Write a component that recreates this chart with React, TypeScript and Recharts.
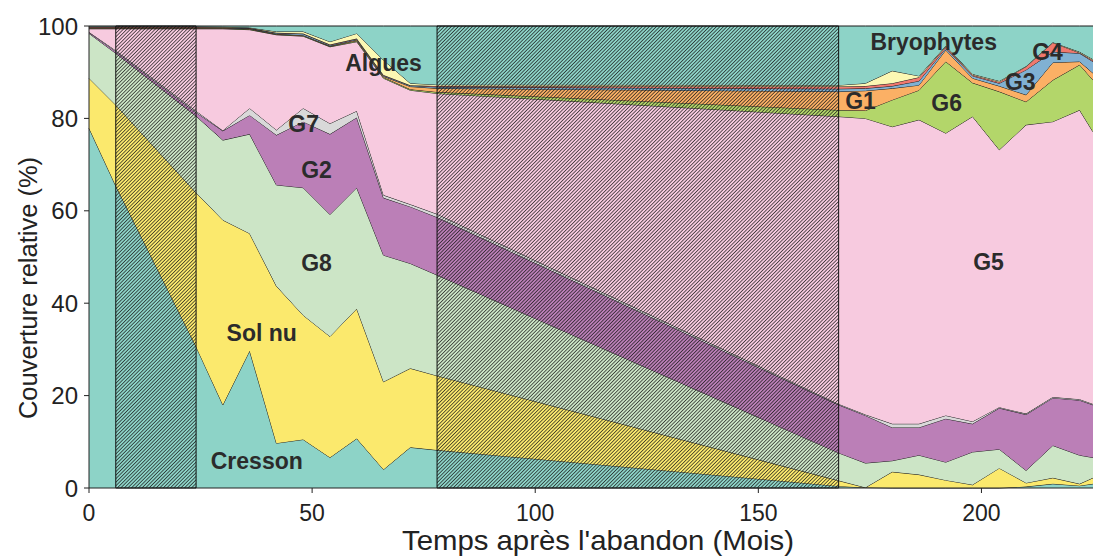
import { AreaChart, Area, XAxis, YAxis, ReferenceArea, ReferenceDot, Label } from 'recharts';

// months after abandonment (hatched spans = interpolated periods)
const months = [0, 6, 24, 30, 36, 42, 48, 54, 60, 66, 72, 78, 168, 174, 180, 186, 192, 198, 204, 210, 216, 222, 225];

const cresson = [77.9, 65.4, 30.6, 18.0, 29.7, 9.7, 10.5, 6.6, 10.7, 4.0, 8.8, 8.2, 0.4, 0.1, 0, 0, 0, 0, 0, 0.3, 0.9, 0.5, 0.9];
const solNu = [10.8, 17.5, 33.3, 40.0, 25.4, 34.0, 26.9, 26.2, 28.1, 19.0, 17.1, 16.1, 1.2, 0, 3.5, 2.9, 1.7, 0.7, 4.3, 0.8, 1.3, 0.4, 1.3];
const g8 = [9.7, 11.2, 16.6, 17.3, 21.5, 21.9, 27.6, 26.4, 26.2, 27.4, 22.7, 21.8, 6.0, 5.3, 2.4, 4.2, 3.9, 7.1, 4.1, 2.7, 7.0, 6.2, 4.4];
const g2 = [0.2, 0.4, 0.8, 2.0, 4.1, 10.8, 14.3, 17.4, 15.2, 12.4, 12.3, 12.5, 10.4, 10.3, 7.2, 6.0, 9.4, 6.1, 8.9, 12.1, 10.3, 11.9, 11.4];
const g7 = [0.1, 0.2, 0.3, 0.1, 1.5, 1.1, 2.9, 2.3, 1.4, 0.6, 0.5, 0.7, 0.2, 0.2, 0.8, 0.8, 0.7, 0.5, 0.2, 0.2, 0.2, 0.2, 0.2];
const g5 = [0.7, 4.7, 17.8, 22.0, 17.0, 20.6, 15.6, 16.6, 15.0, 25.3, 24.7, 26.1, 62.2, 64.1, 64.3, 65.8, 61.1, 66.0, 55.7, 62.5, 59.6, 62.6, 58.9];
const g6 = [0.1, 0.1, 0.1, 0.1, 0.1, 0.1, 0.1, 0.1, 0.2, 0.2, 0.2, 0.3, 1.4, 1.7, 5.8, 6.4, 15.5, 7.3, 12.6, 5.0, 9.0, 9.8, 11.2];
const g1 = [0.1, 0.1, 0.1, 0.1, 0.1, 0.1, 0.1, 0.1, 0.2, 0.2, 0.6, 0.8, 4.0, 4.3, 2.5, 1.1, 2.5, 1.0, 1.2, 1.5, 3.8, 0.7, 1.5];
const g3 = [0.1, 0.1, 0.1, 0.1, 0.1, 0.2, 0.3, 0.2, 0.2, 0.2, 0.2, 0.3, 0.6, 0.5, 0.5, 0.9, 0.4, 0.5, 0.6, 5.4, 2.3, 1.8, 2.5];
const g4 = [0.1, 0.1, 0.1, 0.05, 0.05, 0.05, 0.1, 0.1, 0.1, 0.1, 0.1, 0.2, 0.5, 0.5, 0.6, 0.8, 0.3, 0.2, 0.3, 0.7, 2.0, 0.1, 0.3];
const algues = [0.1, 0.1, 0.1, 0.1, 0.1, 0.25, 0.4, 0.6, 1.1, 3.2, 0.4, 0.3, 0.3, 0.6, 2.7, 0.3, 0.2, 0.2, 0.2, 0.1, 0.1, 0.2, 0.2];
const bryophytes = [0.1, 0.1, 0.1, 0.15, 0.35, 1.2, 1.2, 3.4, 1.6, 7.4, 12.4, 12.7, 12.8, 12.4, 9.7, 10.8, 4.3, 10.4, 11.9, 8.7, 3.5, 5.6, 7.2];

const hatchedSpans = [[6, 24], [78, 168]];

const series = [
  { key: 'cresson', color: '#8dd3c7', values: cresson },
  { key: 'solNu', color: '#fbe96d', values: solNu },
  { key: 'g8', color: '#cce5c6', values: g8 },
  { key: 'g2', color: '#bb7fb7', values: g2 },
  { key: 'g7', color: '#d9d9d9', values: g7 },
  { key: 'g5', color: '#f7cadf', values: g5 },
  { key: 'g6', color: '#b3d66a', values: g6 },
  { key: 'g1', color: '#fbb065', values: g1 },
  { key: 'g3', color: '#80b1d3', values: g3 },
  { key: 'g4', color: '#f0786e', values: g4 },
  { key: 'algues', color: '#fcf8b3', values: algues },
  { key: 'bryophytes', color: '#8dd3c7', values: bryophytes },
];

// in-chart labels, in data units (month, %)
const labels = [
  { text: 'Cresson', x: 37.6, y: 5.8 },
  { text: 'Sol nu', x: 38.7, y: 33.5 },
  { text: 'G8', x: 51, y: 48.7 },
  { text: 'G2', x: 51, y: 68.8 },
  { text: 'G7', x: 48.1, y: 78.8 },
  { text: 'Algues', x: 66, y: 92 },
  { text: 'G5', x: 201.6, y: 48.9 },
  { text: 'G1', x: 172.9, y: 83.8 },
  { text: 'G6', x: 192.2, y: 83.3 },
  { text: 'G3', x: 208.7, y: 87.9 },
  { text: 'G4', x: 214.8, y: 94.4 },
  { text: 'Bryophytes', x: 189.3, y: 96.5 },
];

const data = months.map((m, i) => {
  const row: any = { month: m };
  series.forEach((s) => { row[s.key] = s.values[i]; });
  return row;
});

const font = '"Liberation Sans", Arial, sans-serif';
const narrow = '"Liberation Sans Narrow", ' + font;

export default function App() {
  return (
    <div style={{ width: 1093, height: 558 }}>
      <style>{'body{margin:0}'}</style>
      <AreaChart width={1093} height={558} data={data} margin={{ top: 26, right: 0, bottom: 0, left: 0 }}>
        <defs>
          <pattern id="hatch" patternUnits="userSpaceOnUse" width="2.5" height="2.5" patternTransform="rotate(45)">
            <line x1="0" y1="0" x2="0" y2="2.5" stroke="#111" strokeWidth="1.3" />
          </pattern>
        </defs>
        <XAxis
          dataKey="month"
          type="number"
          domain={[0, 225]}
          ticks={[0, 50, 100, 150, 200]}
          height={70}
          tickSize={5}
          tickMargin={12}
          stroke="#222"
          tick={{ fill: '#222', fontSize: 23, fontFamily: narrow }}
        >
          <Label
            content={() => (
              <text x={598} y={550} textAnchor="middle" fontSize={28} fill="#222" textLength={392} lengthAdjust="spacingAndGlyphs" fontFamily={narrow}>
                Temps après l'abandon (Mois)
              </text>
            )}
          />
        </XAxis>
        <YAxis
          domain={[0, 100]}
          ticks={[0, 20, 40, 60, 80, 100]}
          width={89}
          tickSize={5}
          tickMargin={6}
          stroke="#222"
          tick={{ fill: '#222', fontSize: 24, fontFamily: font }}
        >
          <Label
            content={() => (
              <text x={37} y={288} transform="rotate(-90 37 288)" textAnchor="middle" fontSize={25.5} fill="#222" fontFamily={font}>
                Couverture relative (%)
              </text>
            )}
          />
        </YAxis>
        {series.map((s) => (
          <Area
            key={s.key}
            type="linear"
            dataKey={s.key}
            stackId="1"
            fill={s.color}
            fillOpacity={1}
            stroke="#1a1a1a"
            strokeWidth={1}
            dot={false}
            activeDot={false}
            isAnimationActive={false}
          />
        ))}
        {hatchedSpans.map(([a, b]) => (
          <ReferenceArea key={a} x1={a} x2={b} y1={0} y2={100} fill="url(#hatch)" fillOpacity={1} stroke="#111" strokeWidth={1} zIndex={150} />
        ))}
        {labels.map((l) => (
          <ReferenceDot key={l.text} x={l.x} y={l.y} r={0} fill="none" stroke="none" zIndex={2000}>
            <Label value={l.text} position="center" fill="#2b2b2b" fontSize={23} fontWeight="bold" fontFamily={font} />
          </ReferenceDot>
        ))}
      </AreaChart>
    </div>
  );
}
